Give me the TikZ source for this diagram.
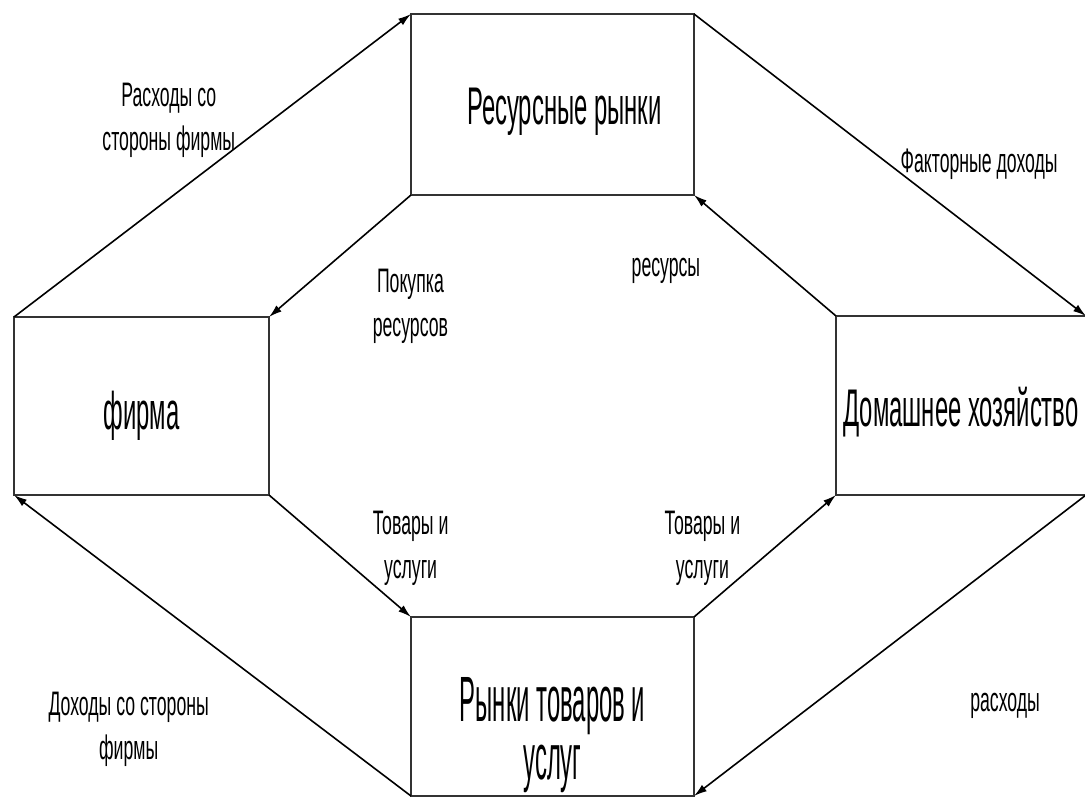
\documentclass[tikz,border=0pt]{standalone}
\usepackage{fontspec}
\usetikzlibrary{positioning,arrows}
\usetikzlibrary{arrows.meta}
\newfontfamily\labelfont[FakeStretch=0.52]{Liberation Sans}
\newfontfamily\boxfont[FakeStretch=0.45]{Liberation Sans}
\newfontfamily\goodsfont[FakeStretch=0.373]{Liberation Sans}

\begin{document}
\begin{tikzpicture}[x=1pt,y=-1pt]
	\fill[white] (0,0) rectangle (1085,797);
	\useasboundingbox (0,0) rectangle (1085,797);
	\tikzstyle{box}=[rectangle, draw=black!80, line width=2.6pt, fill=white, outer sep=0pt, inner sep=0pt]
	\tikzstyle{boxtxt}=[font=\boxfont\fontsize{53}{60}\selectfont, inner sep=0pt]
	\tikzstyle{goodstxt}=[font=\goodsfont\fontsize{64}{58}\selectfont, align=center, inner sep=0pt]
	\tikzstyle{lbl}=[font=\labelfont\fontsize{34}{44}\selectfont, align=center, inner sep=2pt]
	\tikzstyle{flow}=[line width=1.6pt, -{Latex[length=13pt,width=8pt]}]
	% markets and agents
	\draw (552.5,104.5) node (res) [box, minimum width=283pt, minimum height=181pt,
		label={[boxtxt, xshift=12pt, yshift=-7pt]center:Ресурсные рынки}] {};
	\draw (141.5,406) node (firm) [box, minimum width=255pt, minimum height=178pt,
		label={[boxtxt, yshift=-10pt]center:фирма}] {};
	\draw (961,405.5) node (hh) [box, minimum width=250pt, minimum height=179pt,
		label={[boxtxt, yshift=-7pt]center:Домашнее хозяйство}] {};
	\draw (552.5,706.5) node (goods) [box, minimum width=283pt, minimum height=179pt,
		label={[goodstxt, yshift=-29pt]center:{Рынки товаров и\\услуг}}] {};
	% outer flows
	\draw [flow] (firm.north west) to node[lbl, pos=.39, above=38pt] {Расходы со\\стороны фирмы} (res.north west);
	\draw [flow] (res.north east) to node[lbl, pos=.52, anchor=west, yshift=7pt] {Факторные доходы} (hh.north east);
	\draw [flow] (hh.south east) to node[lbl, pos=.69, right=152pt, yshift=-3pt] {расходы} (goods.south east);
	\draw [flow] (goods.south west) to node[lbl, pos=.22, left=112pt] {Доходы со стороны\\фирмы} (firm.south west);
	% inner flows
	\draw [flow] (res.south west) to node[lbl, pos=.5, below right=10pt and 30pt] {Покупка\\ресурсов} (firm.north east);
	\draw [flow] (hh.north west) to node[lbl, pos=.5, below left=0pt and 62pt] {ресурсы} (res.south east);
	\draw [flow] (firm.south east) to node[lbl, pos=.5, right=30pt, yshift=8pt] {Товары и\\услуги} (goods.north west);
	\draw [flow] (goods.north east) to node[lbl, pos=.5, left=22pt, yshift=8pt] {Товары и\\услуги} (hh.south west);
\end{tikzpicture}
\end{document}
